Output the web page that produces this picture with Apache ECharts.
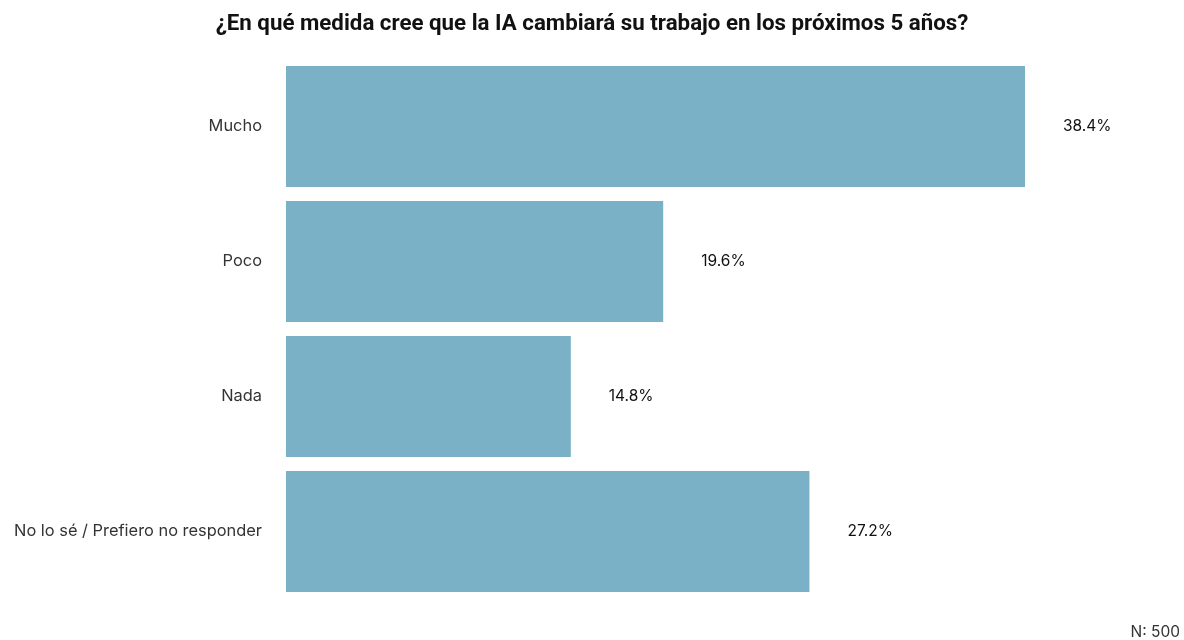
<!DOCTYPE html>
<html><head><meta charset="utf-8">
<script src="https://cdn.jsdelivr.net/npm/echarts@6/dist/echarts.min.js"></script>
<style>html,body{margin:0;padding:0;background:#fff}#c{width:1184px;height:640px}</style>
</head><body><div id="c"></div>
<script>
const categories = ["Mucho", "Poco", "Nada", "No lo sé / Prefiero no responder"];
const values = [38.4, 19.6, 14.8, 27.2];
const titleText = "¿En qué medida cree que la IA cambiará su trabajo en los próximos 5 años?";
const noteText = "N: 500";

const chart = echarts.init(document.getElementById('c'));
chart.setOption({
  animation: false,
  backgroundColor: '#fff',
  title: [{
    text: titleText, left: 'center', top: 8,
    textStyle: { fontFamily: 'Roboto', fontWeight: 'bold', fontSize: 22.3, color: '#111' }
  }, {
    text: noteText, right: 4, top: 624, padding: 0,
    textStyle: { fontFamily: 'Inter', fontWeight: 'normal', fontSize: 15.5, color: '#333' }
  }],
  grid: { left: 286, right: 32, top: 59, bottom: 41 },
  xAxis: { type: 'value', min: 0, max: 45, show: false },
  yAxis: {
    type: 'category', data: categories, inverse: true,
    axisLine: { show: false }, axisTick: { show: false },
    axisLabel: { fontFamily: 'Inter', fontSize: 16.4, color: '#333', margin: 24, padding: [5, 0, 0, 0] }
  },
  series: [{
    type: 'bar', data: values, barCategoryGap: '10.4%',
    itemStyle: { color: '#7BB1C6' },
    label: {
      show: true, position: 'right', distance: 38,
      formatter: p => p.value.toFixed(1) + '%',
      fontFamily: 'Inter', fontSize: 15.5, color: '#111', padding: [5, 0, 0, 0]
    }
  }]
});
</script></body></html>
